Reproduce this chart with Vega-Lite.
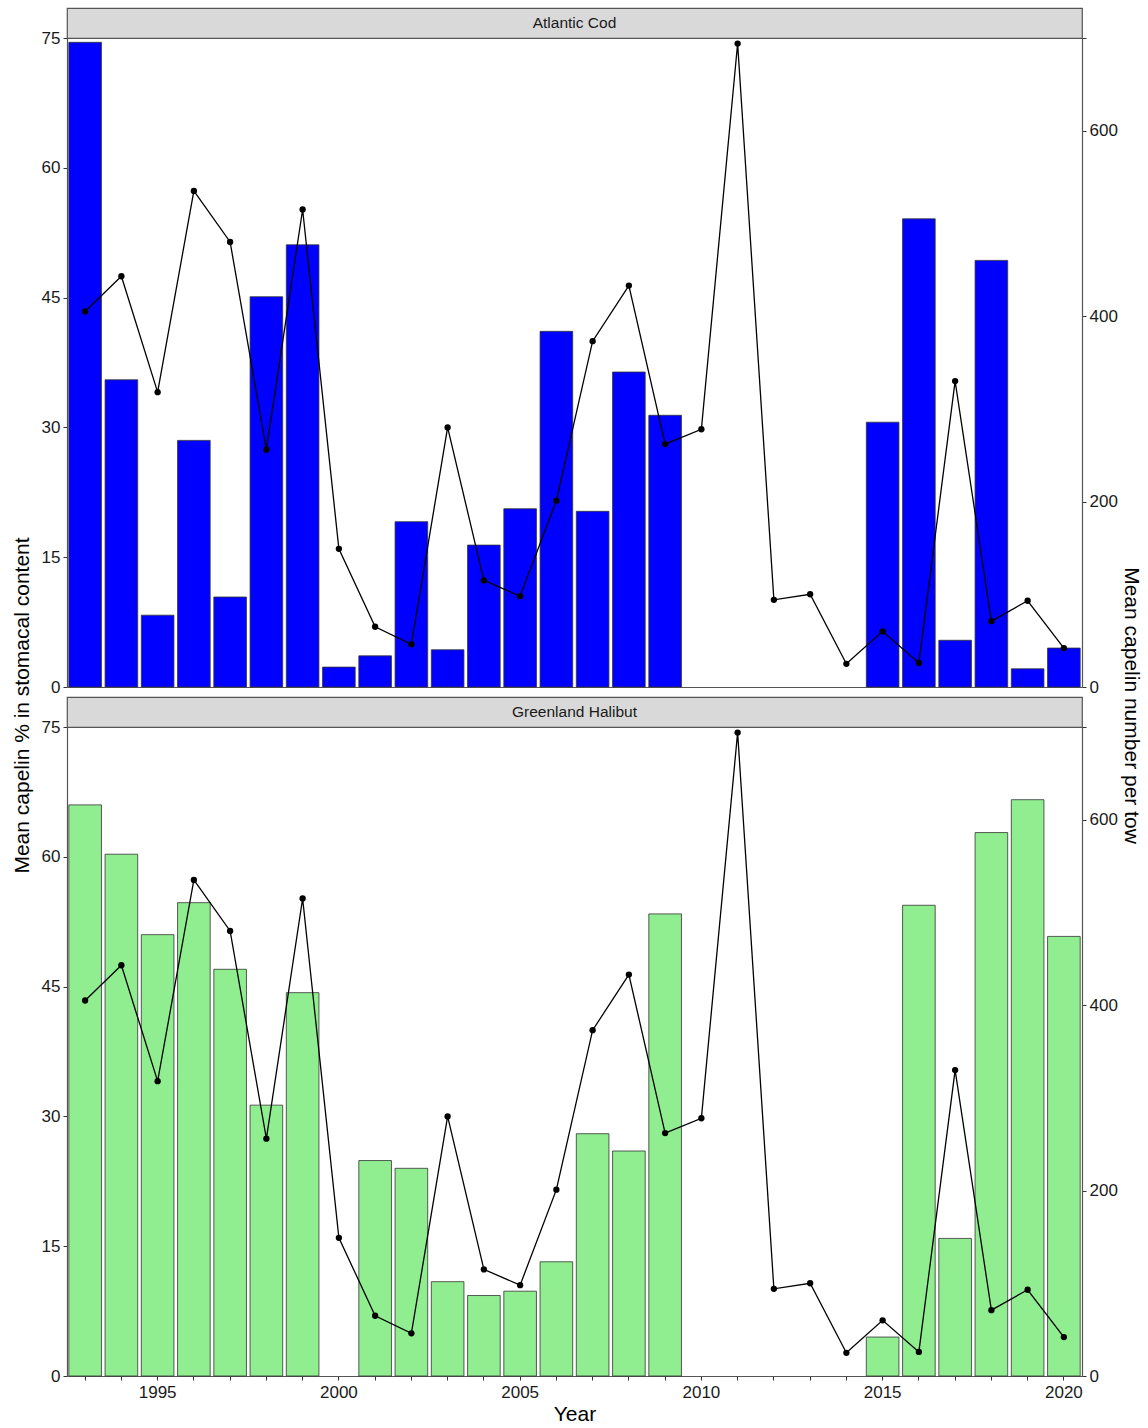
{
  "$schema": "https://vega.github.io/schema/vega-lite/v6.json",
  "padding": {"left": 11, "top": 7, "right": 8, "bottom": 5},
  "background": "white",
  "datasets": {
    "d": [
      {"year": 1993, "cod": 74.5, "hal": 66.0, "tow": 405},
      {"year": 1994, "cod": 35.5, "hal": 60.3, "tow": 443},
      {"year": 1995, "cod": 8.3, "hal": 51.0, "tow": 318},
      {"year": 1996, "cod": 28.5, "hal": 54.7, "tow": 535},
      {"year": 1997, "cod": 10.4, "hal": 47.0, "tow": 480},
      {"year": 1998, "cod": 45.1, "hal": 31.3, "tow": 256},
      {"year": 1999, "cod": 51.1, "hal": 44.3, "tow": 515},
      {"year": 2000, "cod": 2.3, "hal": null, "tow": 149},
      {"year": 2001, "cod": 3.6, "hal": 24.9, "tow": 65},
      {"year": 2002, "cod": 19.1, "hal": 24.0, "tow": 46},
      {"year": 2003, "cod": 4.3, "hal": 10.9, "tow": 280},
      {"year": 2004, "cod": 16.4, "hal": 9.3, "tow": 115},
      {"year": 2005, "cod": 20.6, "hal": 9.8, "tow": 98},
      {"year": 2006, "cod": 41.1, "hal": 13.2, "tow": 201},
      {"year": 2007, "cod": 20.3, "hal": 28.0, "tow": 373},
      {"year": 2008, "cod": 36.4, "hal": 26.0, "tow": 433},
      {"year": 2009, "cod": 31.4, "hal": 53.4, "tow": 262},
      {"year": 2010, "cod": null, "hal": null, "tow": 278},
      {"year": 2011, "cod": null, "hal": null, "tow": 694},
      {"year": 2012, "cod": null, "hal": null, "tow": 94},
      {"year": 2013, "cod": null, "hal": null, "tow": 100},
      {"year": 2014, "cod": null, "hal": null, "tow": 25},
      {"year": 2015, "cod": 30.6, "hal": 4.5, "tow": 60},
      {"year": 2016, "cod": 54.1, "hal": 54.4, "tow": 26},
      {"year": 2017, "cod": 5.4, "hal": 15.9, "tow": 330},
      {"year": 2018, "cod": 49.3, "hal": 62.8, "tow": 71},
      {"year": 2019, "cod": 2.1, "hal": 66.6, "tow": 93},
      {"year": 2020, "cod": 4.5, "hal": 50.8, "tow": 42}
    ]
  },
  "config": {
    "font": "Liberation Sans",
    "view": {"stroke": null},
    "axis": {
      "grid": false,
      "domainColor": "#555555",
      "domainWidth": 1.2,
      "tickColor": "#333333",
      "tickSize": 4,
      "labelPadding": 3,
      "labelFontSize": 17,
      "labelColor": "#1a1a1a",
      "labelFont": "Liberation Sans",
      "titleFont": "Liberation Sans",
      "titleFontSize": 21,
      "titleFontWeight": "normal",
      "titleColor": "#000000"
    }
  },
  "bounds": "flush",
  "spacing": 0,
  "vconcat": [
    {
      "width": 1015,
      "height": 30,
      "data": {"values": [{"s": "Atlantic Cod"}]},
      "view": {"fill": "#D9D9D9", "stroke": "#555555", "strokeWidth": 1.2},
      "mark": {"type": "text", "fontSize": 15.5, "font": "Liberation Sans", "color": "#1a1a1a"},
      "encoding": {"text": {"field": "s"}}
    },
    {
      "width": 1015,
      "height": 649,
      "data": {"name": "d"},
      "layer": [
        {
          "mark": {"type": "bar", "color": "#0000FF", "stroke": "#333333", "strokeWidth": 0.8},
          "encoding": {
            "x": {"field": "year", "type": "ordinal",
              "scale": {"domain": [1993,1994,1995,1996,1997,1998,1999,2000,2001,2002,2003,2004,2005,2006,2007,2008,2009,2010,2011,2012,2013,2014,2015,2016,2017,2018,2019,2020], "paddingInner": 0.1, "paddingOuter": 0.05},
              "axis": {"labels": false, "ticks": false, "title": null}},
            "y": {"field": "cod", "type": "quantitative",
              "scale": {"domain": [0, 75], "nice": false},
              "axis": {"values": [0, 15, 30, 45, 60, 75], "title": "Mean capelin % in stomacal content", "titleY": 667, "titleX": -45, "titleBaseline": "middle", "titleAngle": -90}}
          }
        },
        {
          "layer": [
            {"mark": {"type": "line", "color": "#000000", "strokeWidth": 1.3}},
            {"mark": {"type": "point", "filled": true, "color": "#000000", "size": 40, "opacity": 1}}
          ],
          "encoding": {
            "x": {"field": "year", "type": "ordinal"},
            "y": {"field": "tow", "type": "quantitative",
              "scale": {"domain": [0, 700], "nice": false},
              "axis": {"orient": "right", "values": [0, 200, 400, 600, 700], "labelExpr": "datum.value == 700 ? '' : datum.label", "title": "Mean capelin number per tow", "titleY": 667, "titleX": 48, "titleBaseline": "middle", "titleAngle": 90}}
          }
        }
      ],
      "resolve": {"scale": {"y": "independent"}}
    },
    {
      "width": 1015,
      "height": 10,
      "data": {"values": [{"s": ""}]},
      "mark": {"type": "text"},
      "encoding": {"text": {"field": "s"}}
    },
    {
      "width": 1015,
      "height": 30,
      "data": {"values": [{"s": "Greenland Halibut"}]},
      "view": {"fill": "#D9D9D9", "stroke": "#555555", "strokeWidth": 1.2},
      "mark": {"type": "text", "fontSize": 15.5, "font": "Liberation Sans", "color": "#1a1a1a"},
      "encoding": {"text": {"field": "s"}}
    },
    {
      "width": 1015,
      "height": 649,
      "data": {"name": "d"},
      "layer": [
        {
          "mark": {"type": "bar", "color": "#90EE90", "stroke": "#333333", "strokeWidth": 0.8},
          "encoding": {
            "x": {"field": "year", "type": "ordinal",
              "scale": {"domain": [1993,1994,1995,1996,1997,1998,1999,2000,2001,2002,2003,2004,2005,2006,2007,2008,2009,2010,2011,2012,2013,2014,2015,2016,2017,2018,2019,2020], "paddingInner": 0.1, "paddingOuter": 0.05},
              "axis": {"labelAngle": 0, "labelPadding": 4, "labelExpr": "datum.value % 5 == 0 ? datum.label : ''", "title": "Year", "titlePadding": 3}},
            "y": {"field": "hal", "type": "quantitative",
              "scale": {"domain": [0, 75], "nice": false},
              "axis": {"values": [0, 15, 30, 45, 60, 75], "title": null}}
          }
        },
        {
          "layer": [
            {"mark": {"type": "line", "color": "#000000", "strokeWidth": 1.3}},
            {"mark": {"type": "point", "filled": true, "color": "#000000", "size": 40, "opacity": 1}}
          ],
          "encoding": {
            "x": {"field": "year", "type": "ordinal"},
            "y": {"field": "tow", "type": "quantitative",
              "scale": {"domain": [0, 700], "nice": false},
              "axis": {"orient": "right", "values": [0, 200, 400, 600, 700], "labelExpr": "datum.value == 700 ? '' : datum.label", "title": null}}
          }
        }
      ],
      "resolve": {"scale": {"y": "independent"}}
    }
  ]
}
